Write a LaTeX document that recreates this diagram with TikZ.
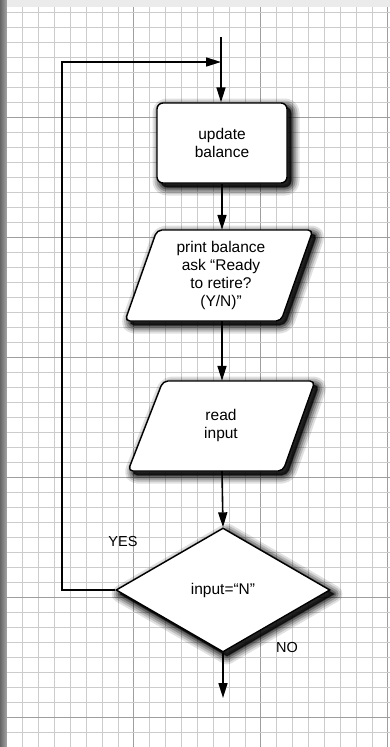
\documentclass[tikz,border=0pt]{standalone}
\usepackage{fontspec}
\setmainfont{Liberation Sans}
\usetikzlibrary{shapes.geometric,arrows.meta,calc}
\tikzset{
  flowline/.style={line width=1.6pt, black},
  flowarrow/.style={flowline, -{Triangle[length=15pt,width=9pt]}},
  txt/.style={font=\fontsize{15.5}{18}\selectfont, align=center},
  outline/.style={draw, line width=1.4pt, fill=white},
  procbox/.style={outline, rounded corners=6pt, minimum width=130pt, minimum height=80pt, inner sep=0pt, txt},
  iolabel/.style={minimum width=150pt, minimum height=90pt, inner sep=0pt, txt},
  decbox/.style={outline, diamond, minimum width=214pt, minimum height=124pt, inner sep=0pt, txt},
  minorline/.style={draw=black!20, line width=0.8pt},
  majorline/.style={draw=black!38, line width=1pt},
  lbl/.style={font=\fontsize{14.5}{17}\selectfont}
}
\newcommand\myshadow[1]{%
  \foreach \w/\o in {17/0.12,13/0.16,9/0.22,5/0.3,1.5/0.4}{%
    \path[shift={(4,4)}, draw=black, fill=black, line width=\w pt, line join=round, draw opacity=\o, fill opacity=\o] #1;
  }%
}
\begin{document}
\begin{tikzpicture}[x=1pt,y=-1pt]
\useasboundingbox (0,0) rectangle (390,747);
% paper
\fill[white] (0,0) rectangle (390,747);
\fill[black!8] (0,0) rectangle (390,7);
\foreach \i in {0,...,24}{
  \pgfmathtruncatemacro{\m}{mod(\i,8)}
  \ifnum\m=0
    \path[majorline] ({6.8+15.875*\i},7) -- ({6.8+15.875*\i},747);
  \else
    \path[minorline] ({6.8+15.875*\i},7) -- ({6.8+15.875*\i},747);
  \fi
}
\foreach \j in {0,...,49}{
  \pgfmathtruncatemacro{\m}{mod(\j,8)}
  \ifnum\m=7
    \path[majorline] (6.8,{12+15*\j}) -- (390,{12+15*\j});
  \else
    \path[minorline] (6.8,{12+15*\j}) -- (390,{12+15*\j});
  \fi
}
\shade[left color=black!60, right color=black!35] (0,0) rectangle (6.8,747);

% shadows
\myshadow{[rounded corners=6pt] (157,103) rectangle (287,183)}
\myshadow{[rounded corners=5pt] (157,230) -- (313,230) -- (281,321) -- (125,321) -- cycle}
\myshadow{[rounded corners=5pt] (163,381) -- (315,381) -- (283,471) -- (128,471) -- cycle}
\myshadow{(223,528) -- (330,590) -- (223,652) -- (116,590) -- cycle}

% shapes
\path[outline, rounded corners=5pt] (157,230) -- (313,230) -- (281,321) -- (125,321) -- cycle;
\path[outline, rounded corners=5pt] (163,381) -- (315,381) -- (283,471) -- (128,471) -- cycle;

% nodes
\node[procbox] (upd) at (222,143) {update\\balance};
\node[iolabel, minimum height=91pt] (prt) at (221,275.5) {print balance\\ask “Ready\\to retire?\\(Y/N)”};
\node[iolabel] (rd) at (221,426) {\raisebox{3pt}{\begin{tabular}{@{}c@{}}read\\input\end{tabular}}};
\node[decbox] (dec) at (223,590) {input=“N”};

\coordinate (start) at (221,37);
\coordinate (join) at (221,62);
\coordinate (corner) at (62,62);
\coordinate (stop) at (223,698);

\node[lbl] (yes) at (123,542) {YES};
\node[lbl] (no) at (287,647) {NO};

% connectors
\draw[flowarrow] (start) -- (start |- upd.north);
\draw[flowarrow] (dec.west) -| (corner) -- (join);
\draw[flowarrow] (upd.south) -- (upd.south |- prt.north);
\draw[flowarrow] (upd.south |- prt.south) -- (upd.south |- rd.north);
\draw[flowarrow] (upd.south |- rd.south) -- (dec.north);
\draw[flowarrow] (dec.south) -- (stop);
\end{tikzpicture}
\end{document}
